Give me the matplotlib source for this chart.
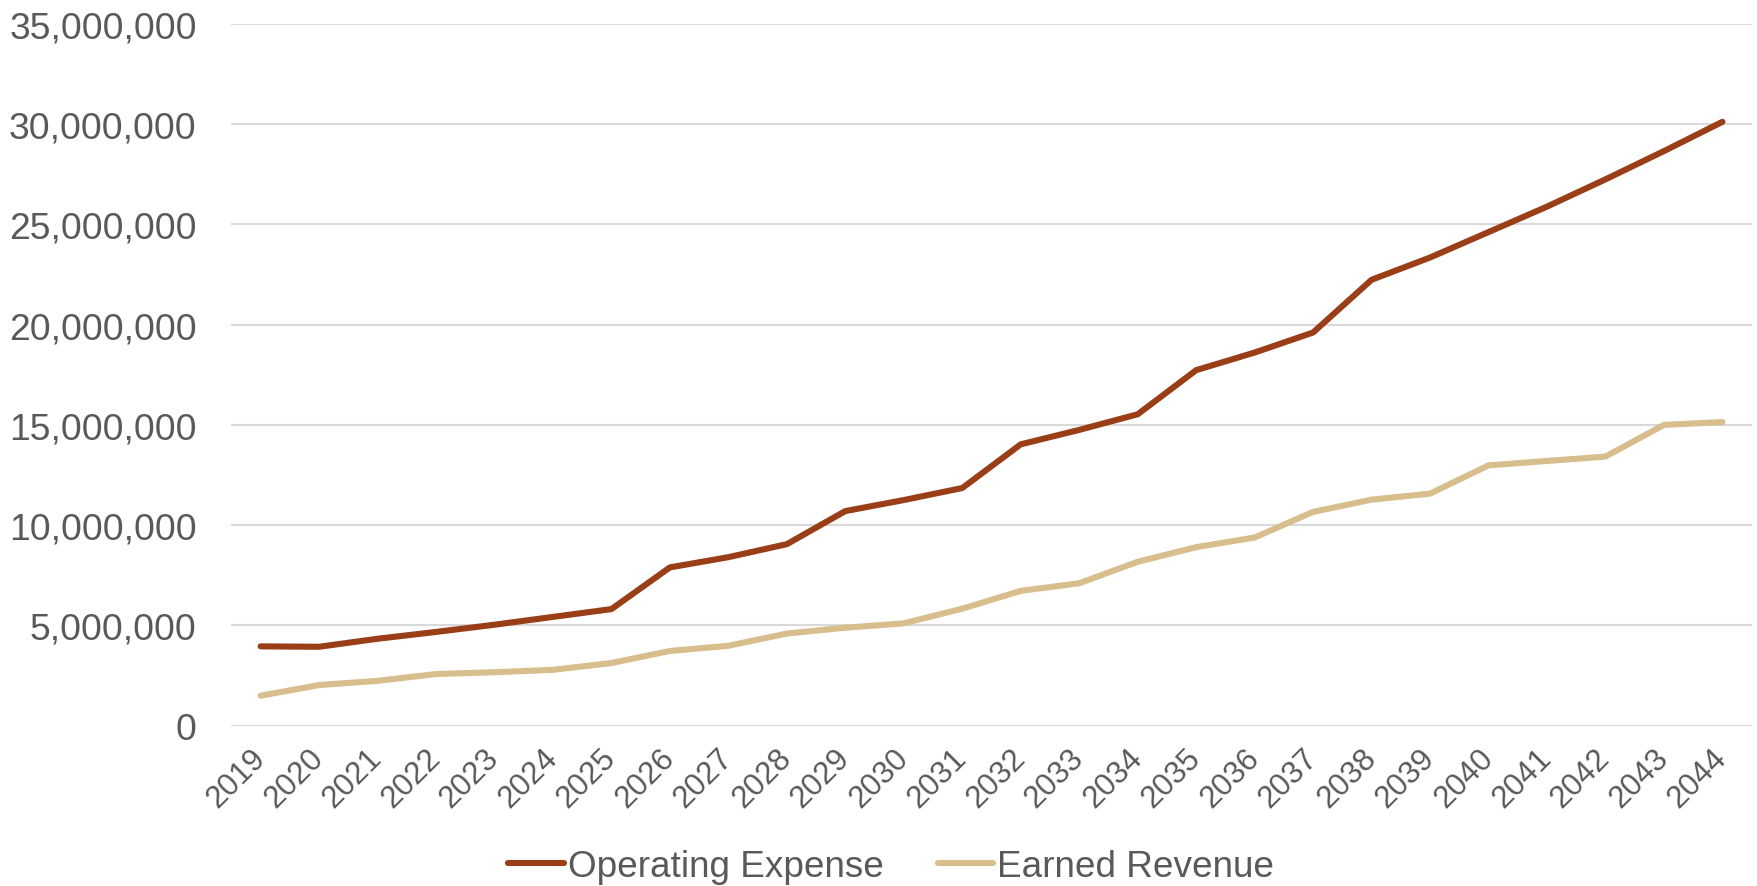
import numpy as np
import matplotlib.pyplot as plt
from matplotlib.ticker import FuncFormatter

# Data
years = [str(y) for y in range(2019, 2045)]
operating_expense = [
    3.95, 3.93, 4.33, 4.67, 5.03, 5.42, 5.81, 7.89, 8.40, 9.05,
    10.70, 11.25, 11.85, 14.03, 14.75, 15.53, 17.73, 18.61, 19.61, 22.24,
    23.35, 24.62, 25.89, 27.25, 28.66, 30.12,
]
earned_revenue = [
    1.49, 2.02, 2.23, 2.57, 2.66, 2.78, 3.12, 3.72, 3.98, 4.59,
    4.88, 5.10, 5.83, 6.72, 7.10, 8.17, 8.90, 9.38, 10.66, 11.27,
    11.57, 12.98, 13.20, 13.42, 15.00, 15.14,
]
operating_expense = [v * 1e6 for v in operating_expense]
earned_revenue = [v * 1e6 for v in earned_revenue]

plt.rcParams['font.family'] = ['Liberation Sans', 'DejaVu Sans']
text_color = '#595959'

fig = plt.figure(figsize=(17.58, 8.87), dpi=100)
ax = fig.add_axes([0.1316, 0.1809, 0.8648, 0.7909])

x = np.arange(len(years))
ax.plot(x, operating_expense, color='#9A3E17', linewidth=4.4,
        solid_capstyle='round', solid_joinstyle='round', label='Operating Expense', zorder=3)
ax.plot(x, earned_revenue, color='#D8BE8C', linewidth=4.4,
        solid_capstyle='round', solid_joinstyle='round', label='Earned Revenue', zorder=3)

ax.set_xlim(-0.5, len(years) - 0.5)
ax.set_ylim(0, 35e6)
ax.set_yticks(np.arange(0, 35e6 + 1, 5e6))
ax.yaxis.set_major_formatter(FuncFormatter(lambda v, p: f'{int(v):,}'))
ax.grid(axis='y', color='#D9D9D9', linewidth=1.5, zorder=0)
ax.set_axisbelow(True)

ax.set_xticks(x)
ax.set_xticklabels(years, rotation=45, ha='right', va='center', rotation_mode='anchor')
ax.tick_params(axis='x', length=0, pad=20, labelsize=22.5, colors=text_color)
ax.tick_params(axis='y', length=0, pad=25, labelsize=26.8, colors=text_color)

for s in ax.spines.values():
    s.set_visible(False)

fig.legend(loc='center', bbox_to_anchor=(0.507, 0.022), ncol=2, frameon=False,
           fontsize=26.6, labelcolor=text_color, handlelength=1.5,
           handletextpad=0.12, columnspacing=1.45)

fig.savefig('out.png', dpi=100)
